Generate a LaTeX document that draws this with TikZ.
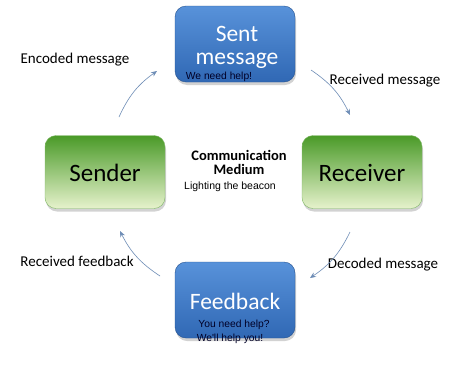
\documentclass[tikz,border=0pt]{standalone}
\usepackage{fontspec}
\setmainfont{Carlito}
\newfontfamily\arialf{Liberation Sans}
\usetikzlibrary{shadows,arrows.meta}
\definecolor{bluetop}{HTML}{5892DA}
\definecolor{bluebot}{HTML}{3068B4}
\definecolor{greentop}{HTML}{4A9A28}
\definecolor{greenbot}{HTML}{E6F2CC}
\definecolor{arrowc}{HTML}{6E8DB6}
\tikzset{
  bluebox/.style={rectangle, rounded corners=11pt, minimum width=120pt, minimum height=76pt,
    top color=bluetop, bottom color=bluebot, draw=bluebot!80!black, line width=0.4pt,
    drop shadow={shadow xshift=1pt, shadow yshift=-3pt, opacity=0.35}},
  greenbox/.style={rectangle, rounded corners=11pt, minimum width=120pt, minimum height=73pt,
    top color=greentop, bottom color=greenbot, draw=greentop!70!white, line width=0.4pt,
    drop shadow={shadow xshift=1pt, shadow yshift=-3pt, opacity=0.35}},
  bigw/.style={text=white, font=\fontsize{23.5}{24}\selectfont, inner sep=0pt, anchor=base},
  bigb/.style={text=black, font=\fontsize{25}{26}\selectfont},
  small/.style={font=\arialf\fontsize{10.3}{11.5}\selectfont, text=black!85!blue, inner sep=0pt, anchor=base},
  elabel/.style={font=\fontsize{15}{16}\selectfont},
  flow/.style={draw=arrowc, line width=0.6pt, -{Stealth[length=6pt,width=5pt]}}
}
\begin{document}
\begin{tikzpicture}[x=1pt,y=-1pt]
\useasboundingbox[fill=white] (0,0) rectangle (463,367);
\node[bluebox] (sent) at (235,44) {};
\node[bigw] (senttxt1) at (237,41) {Sent};
\node[bigw] (senttxt2) at (237,64) {message};
\node[small] (sentsmall) at (219,79.5) {We need help!};
\node[greenbox] (sender) at (105,172) {};
\node[bigb] (sendertxt) at (105,173) {Sender};
\node[greenbox] (receiver) at (362,172) {};
\node[bigb] (receivertxt) at (362,173) {Receiver};
\node[bluebox] (feedback) at (235,300) {};
\node[bigw] (feedbacktxt) at (235,309) {Feedback};
\node[small] (fbsmall1) at (234,327) {You need help?};
\node[small] (fbsmall2) at (230,341) {We'll help you!};
\node[font=\bfseries\fontsize{14.5}{15}\selectfont, align=center] (comm) at (239,162) {Communication\\[-1pt]Medium};
\node[font=\arialf\fontsize{10.5}{11}\selectfont] (beacon) at (230,187) {Lighting the beacon};
\node[elabel] (enc) at (75,60) {Encoded message};
\node[elabel] (recm) at (385,81) {Received message};
\node[elabel] (recf) at (77,261) {Received feedback};
\node[elabel] (dec) at (383,265) {Decoded message};
\coordinate (a1) at (119,117); \coordinate (a2) at (157,71);
\coordinate (b1) at (311,70); \coordinate (b2) at (350,115);
\coordinate (c1) at (160,276); \coordinate (c2) at (120,231);
\coordinate (d1) at (350,232); \coordinate (d2) at (310,278);
\draw[flow] (a1) to[bend left=15] (a2);
\draw[flow] (b1) to[bend left=15] (b2);
\draw[flow] (c1) to[bend left=15] (c2);
\draw[flow] (d1) to[bend left=15] (d2);
\end{tikzpicture}
\end{document}
